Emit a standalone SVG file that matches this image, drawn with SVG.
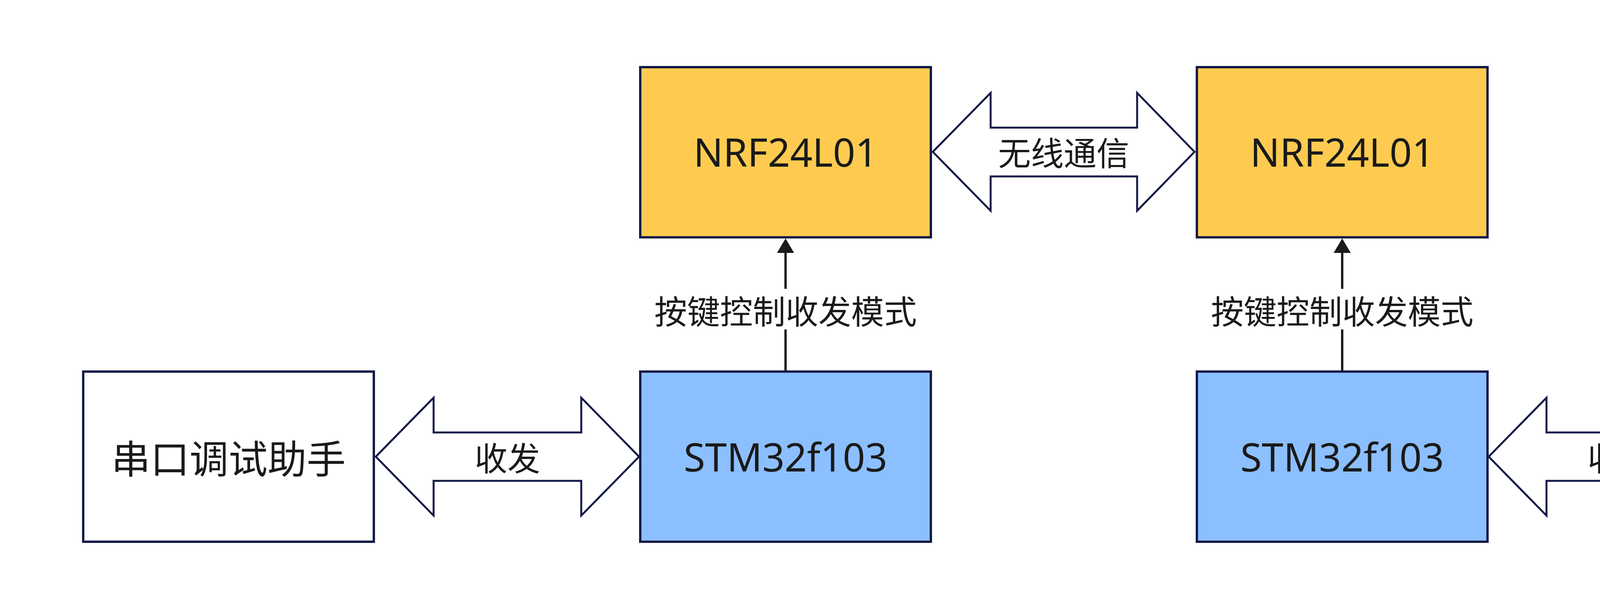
<svg xmlns="http://www.w3.org/2000/svg" width="5415" height="1568" viewBox="0 0 5415 1568">
<style>
.box{stroke:#131a47;stroke-width:6}
.nrf{fill:#fecb50}
.stm{fill:#8cbfff}
.ser{fill:#ffffff}
.big{fill:#ffffff;stroke:#131a47;stroke-width:5;stroke-linejoin:miter}
.line{stroke:#1a1a1a;stroke-width:6;fill:none}
.head{fill:#1a1a1a}
.t{font-family:"Noto Sans","Noto Sans CJK SC",sans-serif;font-size:100px;fill:#1a1a1a;text-anchor:middle}
.lbl{font-family:"Noto Sans CJK SC","Noto Sans",sans-serif;font-size:84px;fill:#1a1a1a;text-anchor:middle}
</style>
<rect width="5415" height="1568" fill="#ffffff"/>
<g id="connectors">
  <g id="wireless">
    <polygon class="big" points="2388,389 2536,238 2536,327 2911,327 2911,238 3058,389 2911,540 2911,452 2536,452 2536,540"/>
    <text class="lbl" x="2723" y="424">无线通信</text>
  </g>
  <g id="serial-left-link">
    <polygon class="big" points="962,1170 1110,1019 1110,1108 1488,1108 1488,1019 1636,1170 1488,1321 1488,1232 1110,1232 1110,1321"/>
    <text class="lbl" x="1299" y="1206">收发</text>
  </g>
  <g id="serial-right-link">
    <polygon class="big" points="3811,1170 3959,1019 3959,1108 4337,1108 4337,1019 4485,1170 4337,1321 4337,1232 3959,1232 3959,1321"/>
    <text class="lbl" x="4148" y="1206">收发</text>
  </g>
  <g id="ctrl-left">
    <line class="line" x1="2011" y1="949" x2="2011" y2="646"/>
    <polygon class="head" points="2011,611 2033,648 1989,648"/>
    <rect x="1675" y="740" width="672" height="104" fill="#ffffff"/>
    <text class="lbl" x="2011" y="830">按键控制收发模式</text>
  </g>
  <g id="ctrl-right">
    <line class="line" x1="3436" y1="949" x2="3436" y2="646"/>
    <polygon class="head" points="3436,611 3458,648 3414,648"/>
    <rect x="3100" y="740" width="672" height="104" fill="#ffffff"/>
    <text class="lbl" x="3436" y="830">按键控制收发模式</text>
  </g>
</g>
<g id="nrf-left">
  <rect class="box nrf" x="1639" y="172" width="744" height="436"/>
  <text class="t" x="2011" y="427">NRF24L01</text>
</g>
<g id="nrf-right">
  <rect class="box nrf" x="3064" y="172" width="744" height="436"/>
  <text class="t" x="3436" y="427">NRF24L01</text>
</g>
<g id="stm-left">
  <rect class="box stm" x="1639" y="952" width="744" height="436"/>
  <text class="t" x="2011" y="1208">STM32f103</text>
</g>
<g id="stm-right">
  <rect class="box stm" x="3064" y="952" width="744" height="436"/>
  <text class="t" x="3436" y="1208">STM32f103</text>
</g>
<g id="serial-left">
  <rect class="box ser" x="213" y="952" width="744" height="436"/>
  <text class="t" x="585" y="1213">串口调试助手</text>
</g>
<g id="serial-right">
  <rect class="box ser" x="4488" y="952" width="744" height="436"/>
  <text class="t" x="4860" y="1213">串口调试助手</text>
</g>
</svg>
